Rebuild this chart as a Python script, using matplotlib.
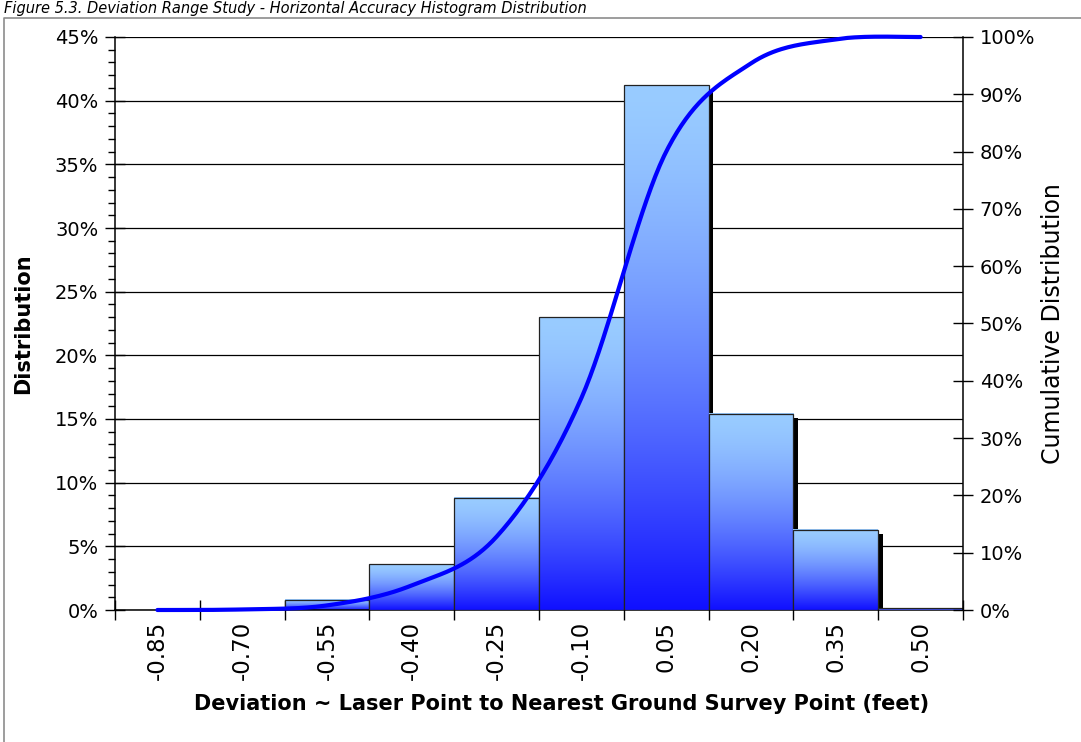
import numpy as np
import matplotlib
matplotlib.use('Agg')
from matplotlib import pyplot as plt
from matplotlib import patches
from matplotlib import transforms
from matplotlib.lines import Line2D
from matplotlib.ticker import MultipleLocator, FuncFormatter, FixedLocator

# histogram of deviation bins (feet), percent of points per bin
bins = ['-0.85', '-0.70', '-0.55', '-0.40', '-0.25', '-0.10', '0.05', '0.20', '0.35', '0.50']
dist = [0.0, 0.0, 0.8, 3.6, 8.8, 23.0, 41.2, 15.4, 6.3, 0.15]
# cumulative distribution
cumul = [0.0, 0.1, 0.8, 4.3, 12.8, 37.0, 80.0, 95.4, 99.6, 100.0]

title = 'Figure 5.3. Deviation Range Study - Horizontal Accuracy Histogram Distribution'
tick_font = ['DejaVu Sans']
label_font = ['DejaVu Sans']

light = np.array([153, 204, 255]) / 255.
dark = np.array([16, 16, 255]) / 255.


def catmull_rom(xs, ys, n=40):
    p = np.column_stack([xs, ys]).astype(float)
    p = np.vstack([p[0], p, p[-1]])
    out = []
    for i in range(1, len(p) - 2):
        p0, p1, p2, p3 = p[i - 1], p[i], p[i + 1], p[i + 2]
        c1 = p1 + (p2 - p0) / 6.
        c2 = p2 - (p3 - p1) / 6.
        t = np.linspace(0, 1, n)[:, None]
        seg = (1 - t) ** 3 * p1 + 3 * (1 - t) ** 2 * t * c1 + 3 * (1 - t) * t ** 2 * c2 + t ** 3 * p2
        out.append(seg)
    out = np.vstack(out)
    return out[:, 0], out[:, 1]


fig = plt.figure(figsize=(10.81, 7.42), dpi=100)
ax = fig.add_axes([115 / 1081., 1 - 610 / 742., 848 / 1081., 573 / 742.])

x = np.arange(len(bins))
g = np.linspace(0, 1, 256) ** 1.5
grad = (light[None, :] * (1 - g[:, None]) + dark[None, :] * g[:, None])[:, None, :]

# drop shadow 4px right / 4px down
shadow_tr = ax.transData + transforms.ScaledTranslation(0.045, -0.045, fig.dpi_scale_trans)

z = 2.0
for xi, h in zip(x, dist):
    if h <= 0:
        continue
    sh = patches.Rectangle((xi - 0.5, 0), 1.0, h, facecolor='black', edgecolor='none',
                           transform=shadow_tr, zorder=z)
    ax.add_patch(sh)
    ax.imshow(grad, extent=[xi - 0.5, xi + 0.5, 0, h], origin='upper',
              aspect='auto', zorder=z + 0.1, interpolation='bilinear')
    rect = patches.Rectangle((xi - 0.5, 0), 1.0, h, facecolor='none',
                             edgecolor='#222222', linewidth=0.9, zorder=z + 0.2)
    ax.add_patch(rect)
    z += 1

ax.set_xlim(-0.5, len(bins) - 0.5)
ax.set_ylim(0, 45)
ax.set_aspect('auto')

ax.yaxis.set_major_locator(MultipleLocator(5))
ax.yaxis.set_minor_locator(MultipleLocator(1))
ax.yaxis.set_major_formatter(FuncFormatter(lambda v, p: '%d%%' % round(v)))
ax.grid(axis='y', which='major', color='black', linewidth=0.9)
ax.set_axisbelow(True)

ax.xaxis.set_major_locator(FixedLocator(np.arange(-0.5, len(bins), 1.0)))
ax.xaxis.set_major_formatter(FuncFormatter(lambda v, p: ''))
ax.xaxis.set_minor_locator(FixedLocator(x))
ax.set_xticklabels(bins, minor=True, rotation=90, fontsize=16.5, family=tick_font)
ax.tick_params(axis='x', which='major', direction='inout', length=14, width=1)
ax.tick_params(axis='x', which='minor', length=0, pad=8)
ax.tick_params(axis='y', which='major', direction='inout', length=14, width=1, labelsize=14, pad=5)
ax.tick_params(axis='y', which='minor', direction='out', length=5, width=1)

for s in ['top', 'right']:
    ax.spines[s].set_visible(False)
for s in ['left', 'bottom']:
    ax.spines[s].set_linewidth(1.1)

ax.set_ylabel('Distribution', fontsize=15, fontweight='bold', family=label_font, va='center')
ax.yaxis.set_label_coords((23 - 115) / 848., 0.5)
ax.set_xlabel('Deviation ~ Laser Point to Nearest Ground Survey Point (feet)',
              fontsize=15, fontweight='bold', family=label_font, va='center')
ax.xaxis.set_label_coords((562 - 115) / 848., -(704 - 610) / 573.)

ax2 = ax.twinx()
ax2.set_ylim(0, 100)
ax2.yaxis.set_major_locator(MultipleLocator(10))
ax2.yaxis.set_major_formatter(FuncFormatter(lambda v, p: '%d%%' % round(v)))
ax2.tick_params(axis='y', direction='inout', length=14, width=1, labelsize=14, pad=5)
for s in ['top', 'left', 'bottom']:
    ax2.spines[s].set_visible(False)
ax2.spines['right'].set_linewidth(1.1)
ax2.set_ylabel('Cumulative Distribution', fontsize=17, family=label_font, va='center')
ax2.yaxis.set_label_coords((1053 - 115) / 848., 0.5)

cx, cy = catmull_rom(x, cumul)
ax2.plot(cx, cy, color='#0000FF', linewidth=3.0, solid_capstyle='round', clip_on=False)

# chart frame and the caption strip above it
fig.add_artist(Line2D([3.5 / 1081., 3.5 / 1081., 1.0], [0.0, 1 - 17.5 / 742., 1 - 17.5 / 742.],
                      transform=fig.transFigure, color='#8c8c8c', linewidth=1.2))
fig.text(0.004, 1 - 13 / 742., title, fontsize=10.5, style='italic', va='baseline', ha='left',
         family=label_font)

fig.savefig('out.png', dpi=100)
